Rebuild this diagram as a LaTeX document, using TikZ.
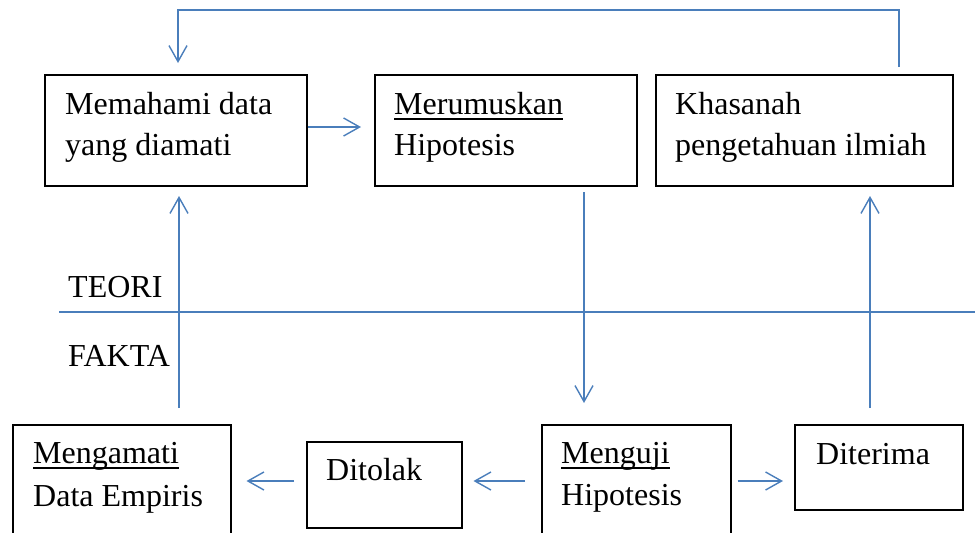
\documentclass[tikz,border=0pt]{standalone}
\usepackage{fontspec}
\setmainfont{Liberation Serif}
\usetikzlibrary{arrows.meta}
\definecolor{lblue}{RGB}{74,126,187}
\tikzset{
  box/.style={draw=black, line width=1.5pt, inner sep=0pt},
  txt/.style={anchor=base west, inner sep=0pt, font=\fontsize{32}{41}\selectfont},
  conn/.style={draw=lblue, line width=1.4pt, -{Straight Barb[length=16pt,width=18pt,line width=1.4pt]}},
  plain/.style={draw=lblue, line width=1.4pt},
  uline/.style={draw=black, line width=2pt}
}
\begin{document}
\begin{tikzpicture}[x=1pt,y=-1pt]
\useasboundingbox (0,0) rectangle (975,533);
\clip (0,0) rectangle (975,533);
% boxes
\node[box, anchor=north west, minimum width=262pt, minimum height=111pt] (b1) at (44,74) {};
\node[box, anchor=north west, minimum width=262pt, minimum height=111pt] (b2) at (374,74) {};
\node[box, anchor=north west, minimum width=297pt, minimum height=111pt] (b3) at (655,74) {};
\node[box, anchor=north west, minimum width=218pt, minimum height=125pt] (b4) at (12,424) {};
\node[box, anchor=north west, minimum width=155pt, minimum height=86pt] (b5) at (306,441) {};
\node[box, anchor=north west, minimum width=189pt, minimum height=125pt] (b6) at (541,424) {};
\node[box, anchor=north west, minimum width=168pt, minimum height=85pt] (b7) at (794,424) {};
% texts
\node[txt] (t1a) at (65,114) {Memahami data};
\node[txt] (t1b) at (65,155) {yang diamati};
\node[txt] (t2a) at (394,114) {Merumuskan};
\node[txt] (t2b) at (394,155) {Hipotesis};
\node[txt] (t3a) at (675,114) {Khasanah};
\node[txt] (t3b) at (675,155) {pengetahuan ilmiah};
\node[txt] (t4a) at (33,463) {Mengamati};
\node[txt] (t4b) at (33,506) {Data Empiris};
\node[txt] (t5) at (326,480) {Ditolak};
\node[txt] (t6a) at (561,463) {Menguji};
\node[txt] (t6b) at (561,505) {Hipotesis};
\node[txt] (t7) at (816,464) {Diterima};
\node[txt] (teori) at (68,297) {TEORI};
\node[txt] (fakta) at (68,366) {FAKTA};
% underlines
\draw[uline] ([yshift=-5pt]t2a.base west) -- ([yshift=-5pt]t2a.base east);
\draw[uline] ([yshift=-5pt]t4a.base west) -- ([yshift=-5pt]t4a.base east);
\draw[uline] ([yshift=-5pt]t6a.base west) -- ([yshift=-5pt]t6a.base east);
% dividing line
\coordinate (hl1) at (59,312);
\coordinate (hl2) at (975,312);
\draw[plain] (hl1) -- (hl2);
% feedback loop
\coordinate (f1) at (899,67);
\coordinate (f2) at (899,10);
\coordinate (f3) at (178,10);
\coordinate (f4) at (178,63);
\draw[conn] (f1) -- (f2) -- (f3) -- (f4);
% arrows
\coordinate (ya) at (0,127);
\draw[conn, shorten >=13pt] (b1.east |- ya) -- (b2.west |- ya);
\coordinate (v1s) at (179,408);
\coordinate (v1e) at (179,196);
\draw[conn] (v1s) -- (v1e);
\coordinate (v2s) at (584,192);
\coordinate (v2e) at (584,403);
\draw[conn] (v2s) -- (v2e);
\coordinate (v3s) at (870,408);
\coordinate (v3e) at (870,196);
\draw[conn] (v3s) -- (v3e);
\coordinate (yb) at (0,481);
\draw[conn, shorten <=12pt, shorten >=15pt] (b5.west |- yb) -- (b4.east |- yb);
\draw[conn, shorten <=16pt, shorten >=11pt] (b6.west |- yb) -- (b5.east |- yb);
\draw[conn, shorten <=6pt, shorten >=11pt] (b6.east |- yb) -- (b7.west |- yb);
\end{tikzpicture}
\end{document}
